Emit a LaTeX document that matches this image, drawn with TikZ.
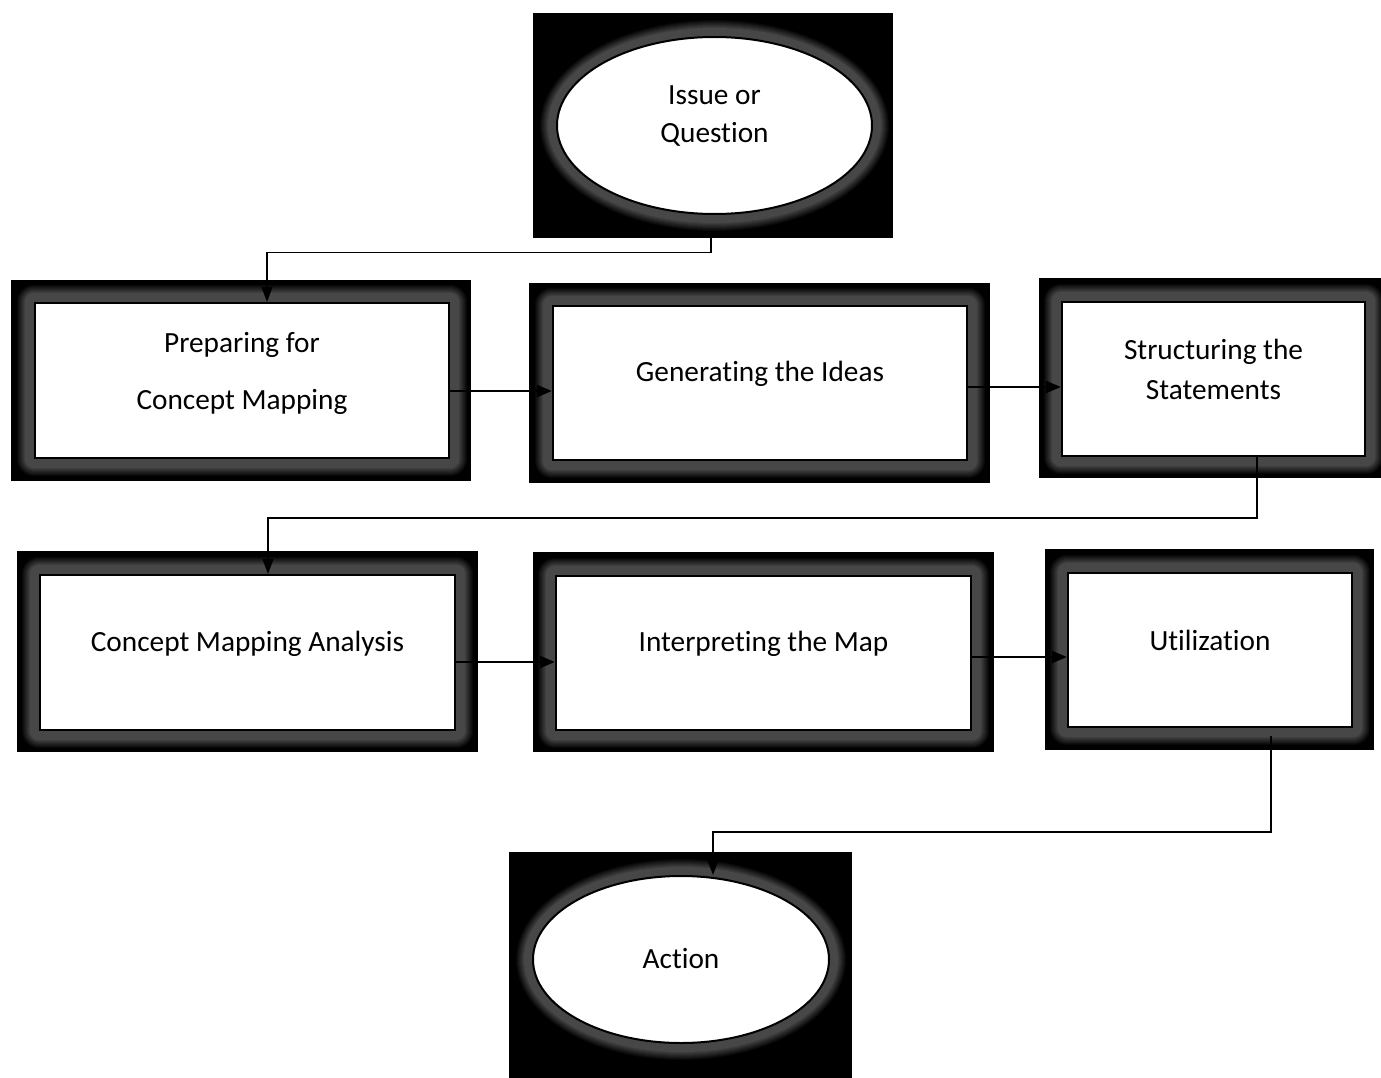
\documentclass[tikz,border=0pt]{standalone}
\usepackage{fontspec}
\setmainfont{Carlito}[Ligatures={NoCommon}]
\usetikzlibrary{shapes.geometric,arrows.meta,calc}
\pgfdeclarelayer{background}
\pgfsetlayers{background,main}

\tikzset{
  backplate/.style={rectangle, fill=black, draw=none, inner sep=0pt},
  stagebox/.style={rectangle, fill=white, draw=black, line width=2.2pt, inner sep=0pt},
  endoval/.style={ellipse, fill=white, draw=black, line width=2pt, inner sep=0pt},
  caption/.style={font=\fontsize{29.3}{38}\selectfont, align=center, inner sep=0pt},
  flow/.style={line width=2.4pt, -{Triangle[length=15pt,width=12pt]}},
  elbow/.style={line width=1.4pt, -{Triangle[length=15pt,width=11pt]}},
}

% soft grey halo around a rectangular stage
\newcommand\boxglow[1]{%
  \foreach \k in {18,...,1}{%
    \pgfmathtruncatemacro\w{28*min(1,(18-\k)/9)}%
    \fill[white!\w!black, rounded corners=\k pt]
      ([shift={(-\k pt,-\k pt)}]#1.south west) rectangle ([shift={(\k pt,\k pt)}]#1.north east);
  }}
% soft grey halo around an oval
\newcommand\ovalglow[3]{%
  \foreach \k in {18,...,1}{%
    \pgfmathtruncatemacro\w{28*min(1,(18-\k)/9)}%
    \fill[white!\w!black] (#1.center) ellipse [x radius={#2pt+\k pt}, y radius={#3pt+\k pt}];
  }}

\begin{document}
\begin{tikzpicture}[x=1pt,y=1pt]
\useasboundingbox (0,0) rectangle (1381,-1078);

% ---- stages ----
\node[endoval, minimum width=315pt, minimum height=177pt] (issue) at (714.5,-125.5) {};
\node[stagebox, minimum width=414pt, minimum height=155pt] (prep) at (242,-380.5) {};
\node[stagebox, minimum width=414pt, minimum height=154pt] (gen) at (760,-383) {};
\node[stagebox, minimum width=303pt, minimum height=154pt] (struct) at (1213.5,-379) {};
\node[stagebox, minimum width=415pt, minimum height=155pt] (cma) at (247.5,-652.5) {};
\node[stagebox, minimum width=415pt, minimum height=154pt] (interp) at (763.5,-653) {};
\node[stagebox, minimum width=284pt, minimum height=154pt] (util) at (1210,-650) {};
\node[endoval, minimum width=296pt, minimum height=167pt] (action) at (681,-959.5) {};

% ---- black plates with halos ----
\begin{pgfonlayer}{background}
  \node[backplate, minimum width=360pt, minimum height=225pt] (issue-plate) at (713,-125.5) {};
  \node[backplate, minimum width=460pt, minimum height=201pt] (prep-plate) at (241,-380.5) {};
  \node[backplate, minimum width=461pt, minimum height=200pt] (gen-plate) at (759.5,-383) {};
  \node[backplate, minimum width=342pt, minimum height=200pt] (struct-plate) at (1210,-378) {};
  \node[backplate, minimum width=461pt, minimum height=201pt] (cma-plate) at (247.5,-651.5) {};
  \node[backplate, minimum width=461pt, minimum height=200pt] (interp-plate) at (763.5,-652) {};
  \node[backplate, minimum width=329pt, minimum height=201pt] (util-plate) at (1209.5,-649.5) {};
  \node[backplate, minimum width=343pt, minimum height=226pt] (action-plate) at (680.5,-965) {};
  \ovalglow{issue}{157.5}{88.5}
  \boxglow{prep}
  \boxglow{gen}
  \boxglow{struct}
  \boxglow{cma}
  \boxglow{interp}
  \boxglow{util}
  \ovalglow{action}{148}{83.5}
\end{pgfonlayer}

% ---- captions ----
\node[caption] (issue-text) at ([yshift=9.5pt]issue.center) {Issue or\\Question};
\node[caption] (prep-text) at ([yshift=7pt]prep.center) {Preparing for\\[19pt]Concept Mapping};
\node[caption] (gen-text) at ([yshift=9pt]gen.center) {Generating the Ideas};
\node[caption] (struct-text) at ([yshift=10pt]struct.center) {Structuring the\\[2pt]Statements};
\node[caption] (cma-text) at ([yshift=8.5pt]cma.center) {Concept Mapping Analysis};
\node[caption] (interp-text) at ([yshift=9pt]interp.center) {Interpreting the Map};
\node[caption] (util-text) at ([yshift=9.5pt]util.center) {Utilization};
\node[caption] (action-text) at ([yshift=1pt]action.center) {Action};

% ---- connectors ----
\draw[elbow] ([xshift=-2pt]issue-plate.south) -- ++(0,-14) -| ([xshift=25pt]prep.north);
\draw[flow] ([yshift=-10.5pt]prep.east) -- ([yshift=-8pt]gen.west);
\draw[flow] ([yshift=-4pt]gen.east) -- ([yshift=-8pt]struct.west);
\draw[elbow] ([xshift=43.5pt]struct.south) -- ++(0,-61) -| ([xshift=20.5pt]cma.north);
\draw[flow] ([yshift=-9.5pt]cma.east) -- ([yshift=-9pt]interp.west);
\draw[flow] ([yshift=-4pt]interp.east) -- ([yshift=-7pt]util.west);
\draw[elbow] ([xshift=61pt,yshift=-8pt]util.south) -- ++(0,-96) -| ([xshift=32pt]action.north);
\end{tikzpicture}
\end{document}
